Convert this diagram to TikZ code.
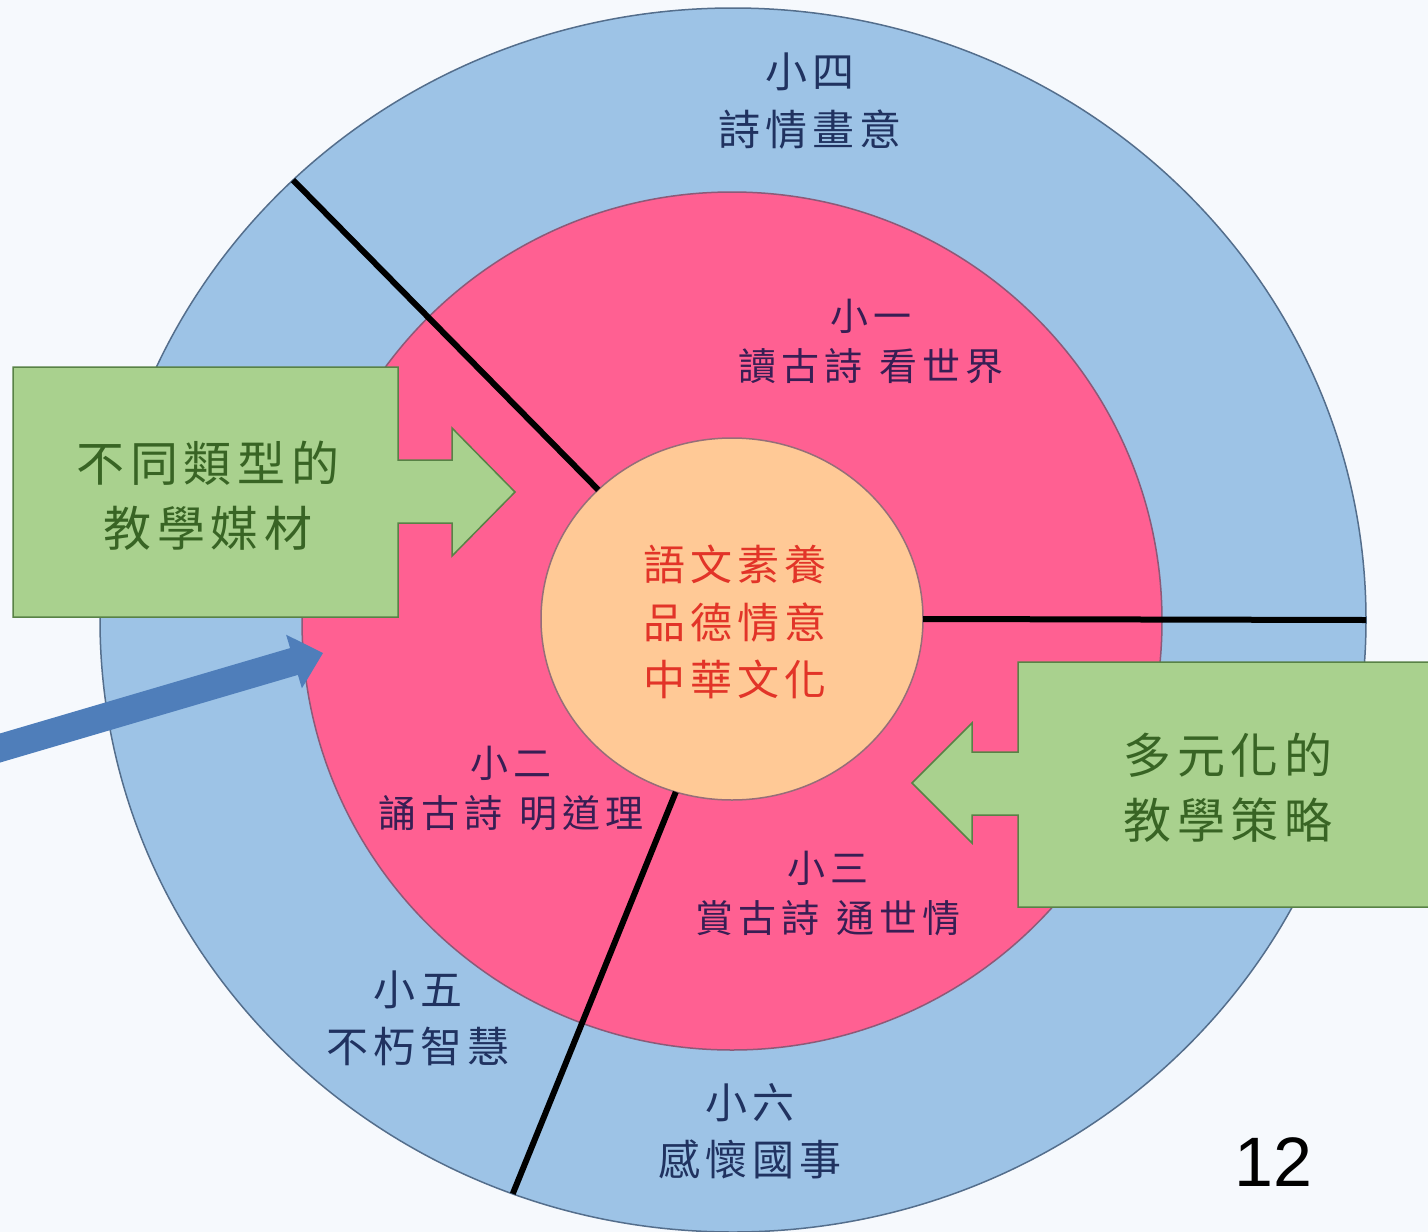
\documentclass[tikz,border=0pt]{standalone}
\usepackage{fontspec}
\usetikzlibrary{shapes.geometric}
\setmainfont{Liberation Sans}
\newfontfamily\cjk[LetterSpace=12]{Noto Sans CJK TC}
\definecolor{bg}{RGB}{246,249,253}
\definecolor{ringblue}{RGB}{157,195,230}
\definecolor{ringedge}{RGB}{84,110,140}
\definecolor{pinkfill}{RGB}{255,96,146}
\definecolor{pinkedge}{RGB}{140,90,120}
\definecolor{corefill}{RGB}{255,201,150}
\definecolor{coreedge}{RGB}{150,110,120}
\definecolor{greenfill}{RGB}{169,209,142}
\definecolor{greenedge}{RGB}{88,130,70}
\definecolor{arrowblue}{RGB}{79,126,186}
\definecolor{navy}{RGB}{32,50,96}
\definecolor{plum}{RGB}{56,30,84}
\definecolor{corered}{RGB}{226,52,40}
\definecolor{leaf}{RGB}{56,100,36}
\begin{document}
\begin{tikzpicture}[x=1pt,y=-1pt,
  ring/.style={ellipse,draw=ringedge,line width=1.5pt,fill=ringblue,inner sep=0pt,outer sep=0pt},
  divider/.style={line width=6pt,draw=black},
  greenshape/.style={fill=greenfill,draw=greenedge,line width=1.5pt},
  ringlbl/.style={font=\cjk\fontsize{42}{58}\selectfont,text=navy,align=center},
  pinklbl/.style={font=\cjk\fontsize{38}{50}\selectfont,text=plum,align=center},
  corelbl/.style={font=\cjk\fontsize{42}{57.5}\selectfont,text=corered,align=center},
  greenlbl/.style={font=\cjk\fontsize{48}{65}\selectfont,text=leaf,align=center}]
\useasboundingbox (0,0) rectangle (1428,1232);
\fill[bg] (0,0) rectangle (1428,1232);
\begin{scope}
\clip (0,0) rectangle (1428,1232);
% rings
\node[ring,minimum width=1266pt,minimum height=1224pt] (outer) at (733,620) {};
\node[ring,fill=pinkfill,draw=pinkedge,minimum width=860pt,minimum height=858pt] (middle) at (732,621) {};
\node[ring,fill=corefill,draw=coreedge,minimum width=382pt,minimum height=362pt] (core) at (732,619) {};
% dividers
\draw[divider] (core.136.5) -- (outer.135.8);
\draw[divider] (core.0) -- (outer.0);
\draw[divider] (core.252.9) -- (outer.249.6);
% labels
\node[ringlbl] (l4) at (810,101) {小四\\詩情畫意};
\node[pinklbl] (l1) at (871,341) {小一\\讀古詩\hspace{18pt}看世界};
\node[corelbl] (lc) at (735,622) {語文素養\\品德情意\\中華文化};
\node[pinklbl] (l2) at (511,788) {小二\\誦古詩\hspace{18pt}明道理};
\node[pinklbl] (l3) at (828,894) {小三\\賞古詩\hspace{18pt}通世情};
\node[ringlbl,font=\cjk\fontsize{42}{57}\selectfont] (l5) at (418,1018) {小五\\不朽智慧};
\node[ringlbl,font=\cjk\fontsize{42}{57}\selectfont] (l6) at (750,1131) {小六\\感懷國事};
% green boxes with arrows
\draw[greenshape] (13,367) -- (398,367) -- (398,460) -- (452,460) -- (452,428) -- (515,492)
  -- (452,556) -- (452,523) -- (398,523) -- (398,617) -- (13,617) -- cycle;
\node[greenlbl] (gl) at (208,496) {不同類型的\\教學媒材};
\draw[greenshape] (1440,662) -- (1018,662) -- (1018,752) -- (972,752) -- (972,723) -- (912,783)
  -- (972,843) -- (972,815) -- (1018,815) -- (1018,907) -- (1440,907);
\node[greenlbl] (gr) at (1228,788) {多元化的\\教學策略};
% blue arrow
\fill[arrowblue] (-3.9,734.6) -- (290.1,648.1) -- (286.1,634.7) -- (323,653)
  -- (301.9,688.3) -- (297.9,674.9) -- (3.9,761.4) -- (-8,765) -- (-8,736) -- cycle;
% page number
\node[font=\fontsize{70}{80}\selectfont,text=black] (pg) at (1273,1162) {12};
\end{scope}
\end{tikzpicture}
\end{document}
